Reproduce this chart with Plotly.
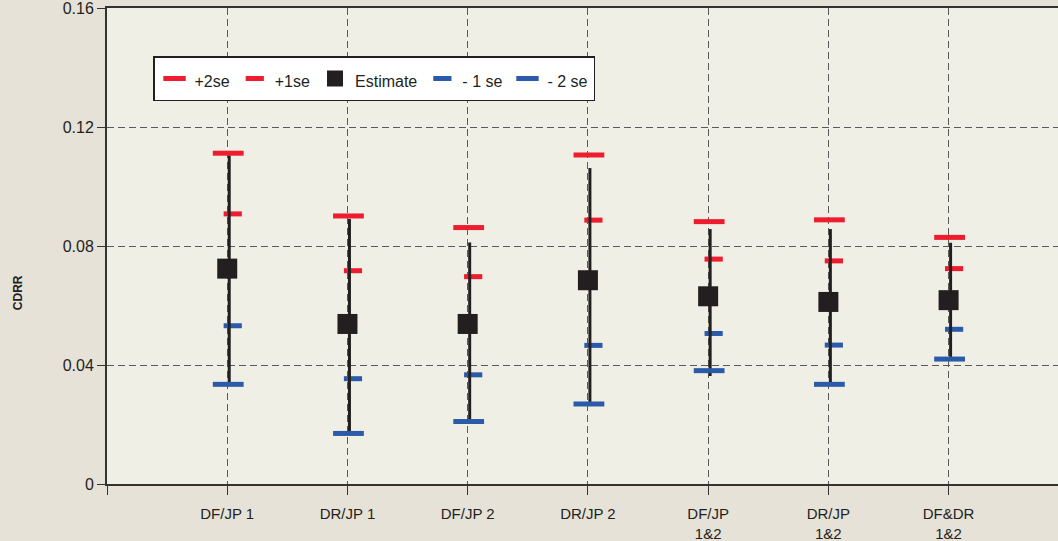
import plotly.graph_objects as go

# ---- data ----
categories = ["DF/JP 1", "DR/JP 1", "DF/JP 2", "DR/JP 2",
              "DF/JP<br>1&2", "DR/JP<br>1&2", "DF&DR<br>1&2"]
series_names = ["+2se", "+1se", "Estimate", "- 1 se", "- 2 se"]
plus2 = [0.1112, 0.0901, 0.0862, 0.1106, 0.0882, 0.0888, 0.0829]
plus1 = [0.0908, 0.0717, 0.0697, 0.0887, 0.0756, 0.0750, 0.0724]
estimate = [0.0724, 0.0538, 0.0538, 0.0685, 0.0631, 0.0612, 0.0618]
minus1 = [0.0532, 0.0354, 0.0367, 0.0466, 0.0506, 0.0467, 0.0520]
minus2 = [0.0335, 0.0170, 0.0210, 0.0269, 0.0381, 0.0335, 0.0420]
ci_high = [0.1105, 0.0891, 0.0812, 0.1062, 0.0857, 0.0857, 0.0811]
ci_low = [0.0338, 0.0167, 0.0202, 0.0267, 0.0363, 0.0339, 0.0424]
y_ticks = [0, 0.04, 0.08, 0.12, 0.16]
y_tick_labels = ["0", "0.04", "0.08", "0.12", "0.16"]

# ---- styles ----
RED = "#ed1c2e"
BLUE = "#2b5ba8"
BLACK = "#231f20"
AXIS = "#333333"
GRID = "#5a5a5a"
FONT = "Liberation Sans, Arial, sans-serif"

pos = list(range(1, len(categories) + 1))
X_MAX = 7.91
px_per_unit = 951 / X_MAX


def shifted_range(px):
    d = px / px_per_unit
    return [0 - d, X_MAX - d]


def legend_label(name):
    return '<span style="font-size:16px">' + name + '</span>'


# vertical CI lines
lx, ly = [], []
for p, lo, hi in zip(pos, ci_low, ci_high):
    lx += [p, p, None]
    ly += [lo, hi, None]

fig = go.Figure()
fig.add_trace(go.Scatter(x=lx, y=ly, mode="lines", xaxis="x3",
                         line=dict(color=BLACK, width=3),
                         showlegend=False, hoverinfo="skip"))
fig.add_trace(go.Scatter(x=pos, y=plus2, mode="markers", name=legend_label(series_names[0]),
                         xaxis="x4",
                         marker=dict(symbol="line-ew", size=22,
                                     line=dict(color=RED, width=5))))
fig.add_trace(go.Scatter(x=pos, y=plus1, mode="markers", name=legend_label(series_names[1]),
                         xaxis="x2",
                         marker=dict(symbol="line-ew", size=13,
                                     line=dict(color=RED, width=5))))
fig.add_trace(go.Scatter(x=pos, y=estimate, mode="markers", name=legend_label(series_names[2]),
                         marker=dict(symbol="square", size=20, color=BLACK,
                                     line=dict(width=0))))
fig.add_trace(go.Scatter(x=pos, y=minus1, mode="markers", name=legend_label(series_names[3]),
                         xaxis="x2",
                         marker=dict(symbol="line-ew", size=13,
                                     line=dict(color=BLUE, width=5))))
fig.add_trace(go.Scatter(x=pos, y=minus2, mode="markers", name=legend_label(series_names[4]),
                         xaxis="x4",
                         marker=dict(symbol="line-ew", size=22,
                                     line=dict(color=BLUE, width=5))))

hidden = dict(overlaying="x", visible=False, showgrid=False, zeroline=False)
fig.update_layout(
    width=1058, height=541,
    margin=dict(l=107, r=0, t=8, b=57),
    paper_bgcolor="#e6e2d8",
    plot_bgcolor="#f0efe5",
    font=dict(family=FONT, color=BLACK),
    xaxis=dict(range=[0, X_MAX], tickmode="array",
               tickvals=[0] + pos, ticktext=[""] + categories,
               ticks="outside", ticklen=9, tickwidth=1.3, tickcolor=AXIS,
               ticklabelstandoff=6, ticklabeloverflow="allow",
               showline=True, linecolor=AXIS, linewidth=2, mirror=True,
               showgrid=True, gridcolor=GRID, gridwidth=1.2, griddash="7px,4px",
               zeroline=False, tickfont=dict(size=15, color=BLACK)),
    xaxis2=dict(range=shifted_range(5.5), **hidden),
    xaxis3=dict(range=shifted_range(2), **hidden),
    xaxis4=dict(range=shifted_range(1), **hidden),
    yaxis=dict(range=[0, 0.16001], tickmode="array",
               tickvals=y_ticks, ticktext=y_tick_labels,
               ticks="outside", ticklen=8, tickwidth=1.3, tickcolor=AXIS,
               ticklabeloverflow="allow",
               showline=True, linecolor=AXIS, linewidth=2,
               showgrid=True, gridcolor=GRID, gridwidth=1.2, griddash="7px,4px",
               zeroline=False, tickfont=dict(size=16, color=BLACK)),
    legend=dict(orientation="h", x=0.0484, y=0.899, xanchor="left", yanchor="top",
                bgcolor="white", bordercolor=BLACK, borderwidth=1.5,
                font=dict(size=22, color=BLACK)),
    annotations=[dict(text="<b>CDRR</b>", textangle=-90, xref="paper", yref="paper",
                      x=-0.0936, y=0.403, xanchor="center", yanchor="middle",
                      showarrow=False, font=dict(size=12, color=BLACK))],
)

fig.write_html("out.html", config={"displayModeBar": False},
               post_script="document.body.style.margin='0';document.body.style.overflow='hidden';")
